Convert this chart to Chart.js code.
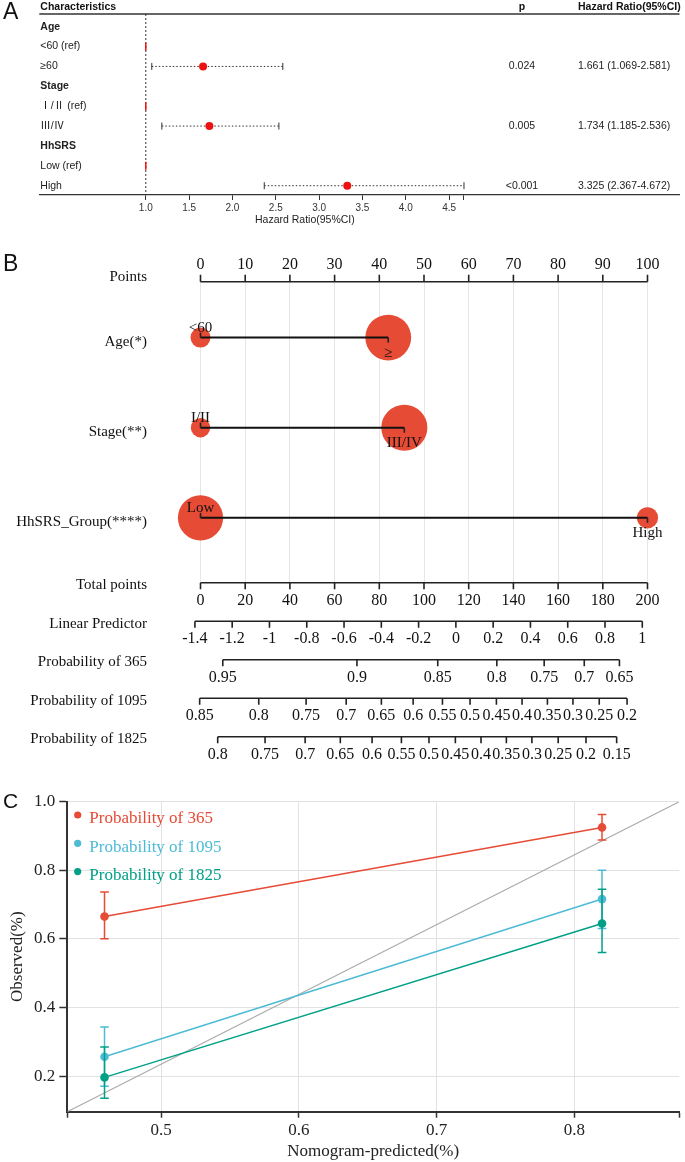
<!DOCTYPE html>
<html>
<head>
<meta charset="utf-8">
<script src="https://cdn.jsdelivr.net/npm/chart.js@4.4.1/dist/chart.umd.min.js"></script>
<style>
html, body { margin: 0; padding: 0; background: #fff; }
#wrap { position: relative; width: 685px; height: 1162px; }
canvas { position: absolute; left: 0; }
#forest { top: 0; }
#nomo { top: 228px; }
#calib { top: 775px; }
</style>
</head>
<body>
<div id="wrap">
  <canvas id="forest" width="685" height="228"></canvas>
  <canvas id="nomo" width="685" height="547"></canvas>
  <canvas id="calib" width="685" height="387"></canvas>
</div>
<script>
// ---------- A: forest plot data ----------
var forestHeaders = ['Characteristics', 'p', 'Hazard Ratio(95%CI)'];
var forestLabels = ['Age', '<60 (ref)', '≥60', 'Stage', 'Ⅰ/Ⅱ (ref)', 'Ⅲ/Ⅳ', 'HhSRS', 'Low (ref)', 'High'];
var forestGroupRow = [true, false, false, true, false, false, true, false, false];
var forestRef = [false, true, false, false, true, false, false, true, false];
var forestHR = [null, 1, 1.661, null, 1, 1.734, null, 1, 3.325];
var forestLow = [null, null, 1.069, null, null, 1.185, null, null, 2.367];
var forestHigh = [null, null, 2.581, null, null, 2.536, null, null, 4.672];
var forestP = ['', '', '0.024', '', '', '0.005', '', '', '<0.001'];
var hrTicks = [1.0, 1.5, 2.0, 2.5, 3.0, 3.5, 4.0, 4.5];
var hrAxisEnd = Math.max.apply(null, forestHigh.filter(function (v) { return v !== null; }));

// ---------- B: nomogram data ----------
var pointsTicks = [0, 10, 20, 30, 40, 50, 60, 70, 80, 90, 100];
var nomoVars = ['Age(*)', 'Stage(**)', 'HhSRS_Group(****)'];
var ageLevels = ['<60', '≥'];
var agePoints = [0, 42];
var ageShare = [0.16, 0.84];
var stageLevels = ['I/II', 'III/IV'];
var stagePoints = [0, 45.6];
var stageShare = [0.15, 0.85];
var hhsrsLevels = ['Low', 'High'];
var hhsrsPoints = [0, 100];
var hhsrsShare = [0.82, 0.18];
var totalTicks = [0, 20, 40, 60, 80, 100, 120, 140, 160, 180, 200];
var lpTicks = [-1.4, -1.2, -1, -0.8, -0.6, -0.4, -0.2, 0, 0.2, 0.4, 0.6, 0.8, 1];
var lpAtZero = -1.37;      // linear predictor at 0 total points
var lpPerTotal = 0.01199;  // linear predictor per total point
var survNames = ['Probability of 365', 'Probability of 1095', 'Probability of 1825'];
var baseSurv = [0.836, 0.526, 0.449];
var prob365Ticks = [0.95, 0.9, 0.85, 0.8, 0.75, 0.7, 0.65];
var prob1095Ticks = [0.85, 0.8, 0.75, 0.7, 0.65, 0.6, 0.55, 0.5, 0.45, 0.4, 0.35, 0.3, 0.25, 0.2];
var prob1825Ticks = [0.8, 0.75, 0.7, 0.65, 0.6, 0.55, 0.5, 0.45, 0.4, 0.35, 0.3, 0.25, 0.2, 0.15];

// ---------- C: calibration data ----------
var calibLabels = ['Probability of 365', 'Probability of 1095', 'Probability of 1825'];
var calibColors = ['#E64B35', '#4DBBD5', '#00A087'];
var pred365 = [0.459, 0.820], obs365 = [0.665, 0.925], lo365 = [0.600, 0.888], hi365 = [0.737, 0.963];
var pred1095 = [0.459, 0.820], obs1095 = [0.256, 0.716], lo1095 = [0.170, 0.630], hi1095 = [0.343, 0.800];
var pred1825 = [0.459, 0.820], obs1825 = [0.196, 0.645], lo1825 = [0.135, 0.560], hi1825 = [0.285, 0.745];
var calibXTicks = [0.5, 0.6, 0.7, 0.8];
var calibYTicks = [0.2, 0.4, 0.6, 0.8, 1.0];
var calibXRange = [0.432, 0.876];
var calibYRange = [0.096, 1.0];

var SERIF = '"Liberation Serif", "Times New Roman", serif';
var SANS = '"Liberation Sans", Arial, sans-serif';
Chart.defaults.font.family = SERIF;

// =============== A ===============
var forestDatasets = [];
forestDatasets.push({
  data: forestLabels.map(function (l, i) { return forestLow[i] !== null ? { x: forestHR[i], y: i } : null; })
    .filter(function (d) { return d; }),
  backgroundColor: '#ee1111', borderWidth: 0, pointRadius: 4
});
forestLabels.forEach(function (l, i) {
  if (forestLow[i] === null) return;
  forestDatasets.push({
    showLine: true,
    data: [{ x: forestLow[i], y: i }, { x: forestHigh[i], y: i }],
    borderColor: '#333', borderWidth: 1, borderDash: [1.5, 2],
    pointStyle: 'line', rotation: 90, pointRadius: 3.5,
    pointBorderColor: '#333', pointBorderWidth: 1
  });
});
forestDatasets.push({
  data: forestLabels.map(function (l, i) { return forestRef[i] ? { x: forestHR[i], y: i } : null; })
    .filter(function (d) { return d; }),
  pointStyle: 'line', rotation: 90, pointRadius: 4,
  borderColor: '#ee1111', pointBorderColor: '#ee1111', pointBorderWidth: 1.5
});

var forestPlugin = {
  id: 'forestTable',
  beforeDatasetsDraw: function (chart) {
    var ctx = chart.ctx, xs = chart.scales.x, area = chart.chartArea;
    ctx.save();
    ctx.strokeStyle = '#333';
    ctx.lineWidth = 1.3;
    ctx.beginPath();
    ctx.moveTo(area.left, area.top);
    ctx.lineTo(area.right, area.top);
    ctx.stroke();
    var x1 = xs.getPixelForValue(1);
    ctx.lineWidth = 1;
    ctx.setLineDash([2, 2]);
    ctx.beginPath();
    ctx.moveTo(x1, area.top);
    ctx.lineTo(x1, area.bottom);
    ctx.stroke();
    ctx.restore();
  },
  afterDraw: function (chart) {
    var ctx = chart.ctx, xs = chart.scales.x, ys = chart.scales.y, area = chart.chartArea;
    ctx.save();
    ctx.fillStyle = '#111';
    ctx.font = '23px ' + SANS;
    ctx.textAlign = 'left';
    ctx.textBaseline = 'top';
    ctx.fillText('A', 3, 1);

    ctx.textBaseline = 'middle';
    var hy = ys.getPixelForValue(-1);
    ctx.font = 'bold 10.5px ' + SANS;
    ctx.fillText(forestHeaders[0], area.left + 1, hy);
    ctx.textAlign = 'center';
    ctx.fillText(forestHeaders[1], 522, hy);
    ctx.textAlign = 'left';
    ctx.fillText(forestHeaders[2], 578, hy);

    ctx.fillStyle = '#222';
    forestLabels.forEach(function (lab, i) {
      var y = ys.getPixelForValue(i);
      ctx.textAlign = 'left';
      ctx.font = (forestGroupRow[i] ? 'bold ' : '') + '10.5px ' + SANS + ', "Noto Sans CJK SC"';
      ctx.fillText(lab, area.left + 1, y);
      if (forestLow[i] !== null) {
        ctx.font = '10.5px ' + SANS;
        ctx.textAlign = 'center';
        ctx.fillText(forestP[i], 522, y);
        ctx.textAlign = 'left';
        ctx.fillText(forestHR[i].toFixed(3) + ' (' + forestLow[i].toFixed(3) + '-' + forestHigh[i].toFixed(3) + ')', 578, y);
      }
    });

    ctx.textAlign = 'center';
    ctx.font = '10.5px ' + SANS;
    ctx.fillText('Hazard Ratio(95%CI)', (xs.getPixelForValue(1) + xs.getPixelForValue(hrAxisEnd)) / 2, area.bottom + 25);
    ctx.restore();
  }
};

new Chart(document.getElementById('forest'), {
  type: 'scatter',
  data: { datasets: forestDatasets },
  options: {
    responsive: false,
    animation: false,
    layout: { padding: { left: 39.3, right: 0, top: 14, bottom: 0 } },
    plugins: { legend: { display: false }, tooltip: { enabled: false } },
    scales: {
      x: {
        type: 'linear', min: -0.229, max: 7.159, position: 'bottom',
        afterBuildTicks: function (s) { s.ticks = hrTicks.concat([hrAxisEnd]).map(function (v) { return { value: v }; }); },
        afterFit: function (s) { s.height = 33; },
        border: { display: true, color: '#333', width: 1.3 },
        grid: { drawOnChartArea: false, drawTicks: true, tickLength: 5, color: '#333', lineWidth: 1 },
        ticks: {
          autoSkip: false, maxRotation: 0, padding: 2, color: '#333',
          font: { family: SANS, size: 10 },
          callback: function (v) { return hrTicks.indexOf(v) >= 0 ? v.toFixed(1) : ''; }
        }
      },
      y: { type: 'linear', display: false, reverse: true, min: -0.639, max: 8.468 }
    }
  },
  plugins: [forestPlugin]
});

// =============== B ===============
var nomoLevels = [ageLevels, stageLevels, hhsrsLevels];
var nomoPoints = [agePoints, stagePoints, hhsrsPoints];
var nomoShare = [ageShare, stageShare, hhsrsShare];
var probTicks = [prob365Ticks, prob1095Ticks, prob1825Ticks];

function totalToPoints(t) { return t * pointsTicks[pointsTicks.length - 1] / totalTicks[totalTicks.length - 1]; }
function lpToPoints(lp) { return totalToPoints((lp - lpAtZero) / lpPerTotal); }
function fmt(v) { return String(+v.toFixed(2)); }

var nomoDatasets = [];
nomoPoints.forEach(function (pts, k) {
  nomoDatasets.push({
    type: 'scatter', showLine: true, clip: false,
    data: [{ x: Math.min.apply(null, pts), y: k + 1 }, { x: Math.max.apply(null, pts), y: k + 1 }],
    borderColor: '#111', borderWidth: 2, pointRadius: 0
  });
});
nomoPoints.forEach(function (pts, k) {
  nomoDatasets.push({
    type: 'bubble', clip: false,
    data: pts.map(function (p, j) { return { x: p, y: k + 1, r: 25 * Math.sqrt(nomoShare[k][j]) }; }),
    backgroundColor: '#E64B35', borderWidth: 0
  });
});

function drawNomoAxis(ctx, xs, y, vals, toPoints, up) {
  var px = vals.map(function (v) { return xs.getPixelForValue(toPoints(v)); });
  var lo = Math.min.apply(null, px), hi = Math.max.apply(null, px);
  ctx.lineWidth = 1.6;
  ctx.beginPath();
  ctx.moveTo(lo, y);
  ctx.lineTo(hi, y);
  px.forEach(function (x) {
    ctx.moveTo(x, y);
    ctx.lineTo(x, up ? y - 7 : y + 6.5);
  });
  ctx.stroke();
  ctx.font = '16px ' + SERIF;
  ctx.textAlign = 'center';
  ctx.textBaseline = 'middle';
  px.forEach(function (x, k) { ctx.fillText(fmt(vals[k]), x, up ? y - 16.5 : y + 18); });
}

var nomoPlugin = {
  id: 'nomoAxes',
  afterDraw: function (chart) {
    var ctx = chart.ctx, xs = chart.scales.x, ys = chart.scales.y, area = chart.chartArea;
    var labelX = area.left - 53.5;
    var gap = 38.5;
    ctx.save();
    ctx.fillStyle = '#111';
    ctx.strokeStyle = '#222';
    ctx.font = '23px ' + SANS;
    ctx.textAlign = 'left';
    ctx.textBaseline = 'top';
    ctx.fillText('B', 3, 25);

    // Points scale on top
    drawNomoAxis(ctx, xs, area.top, pointsTicks, function (v) { return v; }, true);
    ctx.font = '15px ' + SERIF;
    ctx.textAlign = 'right';
    ctx.fillText('Points', labelX, area.top - 5);

    // variables
    nomoVars.forEach(function (name, k) {
      var y = ys.getPixelForValue(k + 1);
      ctx.font = '15px ' + SERIF;
      ctx.textAlign = 'right';
      ctx.textBaseline = 'middle';
      ctx.fillText(name, labelX, y + 4.5);
      ctx.lineWidth = 1.6;
      ctx.textAlign = 'center';
      nomoPoints[k].forEach(function (p, j) {
        var x = xs.getPixelForValue(p);
        var up = j % 2 === 0;
        ctx.beginPath();
        ctx.moveTo(x, y);
        ctx.lineTo(x, up ? y - 5 : y + 5);
        ctx.stroke();
        ctx.fillText(nomoLevels[k][j], x, up ? y - 9.5 : y + 15);
      });
    });

    // lower scales
    var rows = [
      { name: 'Total points', vals: totalTicks, map: totalToPoints },
      { name: 'Linear Predictor', vals: lpTicks, map: lpToPoints }
    ];
    survNames.forEach(function (name, k) {
      rows.push({
        name: name, vals: probTicks[k],
        map: function (p) { return lpToPoints(Math.log(Math.log(p) / Math.log(baseSurv[k]))); }
      });
    });
    rows.forEach(function (row, k) {
      var y = area.bottom + k * gap;
      drawNomoAxis(ctx, xs, y, row.vals, row.map, false);
      ctx.font = '15px ' + SERIF;
      ctx.textAlign = 'right';
      ctx.fillText(row.name, labelX, y + 2.5);
    });
    ctx.restore();
  }
};

new Chart(document.getElementById('nomo'), {
  type: 'scatter',
  data: { datasets: nomoDatasets },
  options: {
    responsive: false,
    animation: false,
    layout: { padding: { left: 200.5, right: 37.5, top: 53.7, bottom: 192.3 } },
    plugins: { legend: { display: false }, tooltip: { enabled: false } },
    scales: {
      x: {
        type: 'linear', min: 0, max: 100, display: true,
        afterBuildTicks: function (s) { s.ticks = pointsTicks.map(function (v) { return { value: v }; }); },
        afterFit: function (s) { s.height = 0; },
        ticks: { display: false },
        border: { display: false },
        grid: { color: '#e6e6e6', lineWidth: 1, drawTicks: false }
      },
      y: { type: 'linear', display: false, reverse: true, min: 0.38, max: 3.72 }
    }
  },
  plugins: [nomoPlugin]
});

// =============== C ===============
var calibPred = [pred365, pred1095, pred1825];
var calibObs = [obs365, obs1095, obs1825];
var calibLo = [lo365, lo1095, lo1825];
var calibHi = [hi365, hi1095, hi1825];
var calibOrder = [1, 3, 2];

var calibDatasets = [];
calibLabels.forEach(function (lab, k) {
  calibDatasets.push({
    label: lab, showLine: true, order: calibOrder[k],
    data: calibPred[k].map(function (x, j) { return { x: x, y: calibObs[k][j] }; }),
    borderColor: calibColors[k], backgroundColor: calibColors[k], borderWidth: 1.5,
    pointRadius: 4.3, pointBorderWidth: 0
  });
  var bars = [];
  calibPred[k].forEach(function (x, j) {
    if (j) bars.push({ x: x, y: null });
    bars.push({ x: x, y: calibLo[k][j] });
    bars.push({ x: x, y: calibHi[k][j] });
  });
  calibDatasets.push({
    showLine: true, spanGaps: false, order: calibOrder[k],
    data: bars,
    borderColor: calibColors[k], borderWidth: 1.5,
    pointStyle: 'line', pointRadius: 4.3,
    pointBorderColor: calibColors[k], pointBorderWidth: 1.5
  });
});
calibDatasets.push({
  showLine: true, order: 10,
  data: [{ x: calibXRange[0], y: calibYRange[0] }, { x: calibXRange[1], y: calibYRange[1] }],
  borderColor: '#aaaaaa', borderWidth: 1.2, pointRadius: 0
});

var calibPlugin = {
  id: 'calibLegend',
  afterDraw: function (chart) {
    var ctx = chart.ctx, area = chart.chartArea;
    ctx.save();
    ctx.fillStyle = '#111';
    ctx.font = '21px ' + SANS;
    ctx.textAlign = 'left';
    ctx.textBaseline = 'top';
    ctx.fillText('C', 3, 17);
    ctx.textBaseline = 'middle';
    ctx.font = '17px ' + SERIF;
    calibLabels.forEach(function (lab, k) {
      var ty = area.top + 17.3 + k * 28.3;
      ctx.fillStyle = calibColors[k];
      ctx.beginPath();
      ctx.arc(area.left + 10.4, ty - 4, 3.6, 0, 2 * Math.PI);
      ctx.fill();
      ctx.fillText(lab, area.left + 22, ty);
    });
    ctx.restore();
  }
};

new Chart(document.getElementById('calib'), {
  type: 'scatter',
  data: { datasets: calibDatasets },
  options: {
    responsive: false,
    animation: false,
    layout: { padding: { left: 0, right: 1.5, top: 26.7, bottom: 0 } },
    plugins: { legend: { display: false }, tooltip: { enabled: false } },
    scales: {
      x: {
        type: 'linear', min: calibXRange[0], max: calibXRange[1],
        afterBuildTicks: function (s) {
          s.ticks = [calibXRange[0]].concat(calibXTicks, [calibXRange[1]]).map(function (v) { return { value: v }; });
        },
        afterFit: function (s) { s.height = 50.3; },
        border: { color: '#333', width: 2 },
        grid: {
          color: function (c) { return c.tick && calibXTicks.indexOf(c.tick.value) >= 0 ? '#e2e2e2' : 'rgba(0,0,0,0)'; },
          lineWidth: 1, tickColor: '#333', tickWidth: 1.5, tickLength: 6
        },
        ticks: {
          autoSkip: false, maxRotation: 0, padding: 3, color: '#222', font: { size: 17 },
          callback: function (v) { return calibXTicks.indexOf(v) >= 0 ? v.toFixed(1) : ''; }
        },
        title: { display: true, text: 'Nomogram-predicted(%)', color: '#222', font: { size: 17 }, padding: { top: 0, bottom: 0 } }
      },
      y: {
        type: 'linear', min: calibYRange[0], max: calibYRange[1],
        afterBuildTicks: function (s) { s.ticks = calibYTicks.map(function (v) { return { value: v }; }); },
        afterFit: function (s) { s.width = 67.3; },
        border: { color: '#333', width: 2 },
        grid: { color: '#e2e2e2', lineWidth: 1, tickColor: '#333', tickWidth: 1.5, tickLength: 8 },
        ticks: {
          autoSkip: false, padding: 4, color: '#222', font: { size: 17 },
          callback: function (v) { return v.toFixed(1); }
        },
        title: { display: true, text: 'Observed(%)', color: '#222', font: { size: 17 }, padding: { top: 7, bottom: 0 } }
      }
    }
  },
  plugins: [calibPlugin]
});
</script>
</body>
</html>
